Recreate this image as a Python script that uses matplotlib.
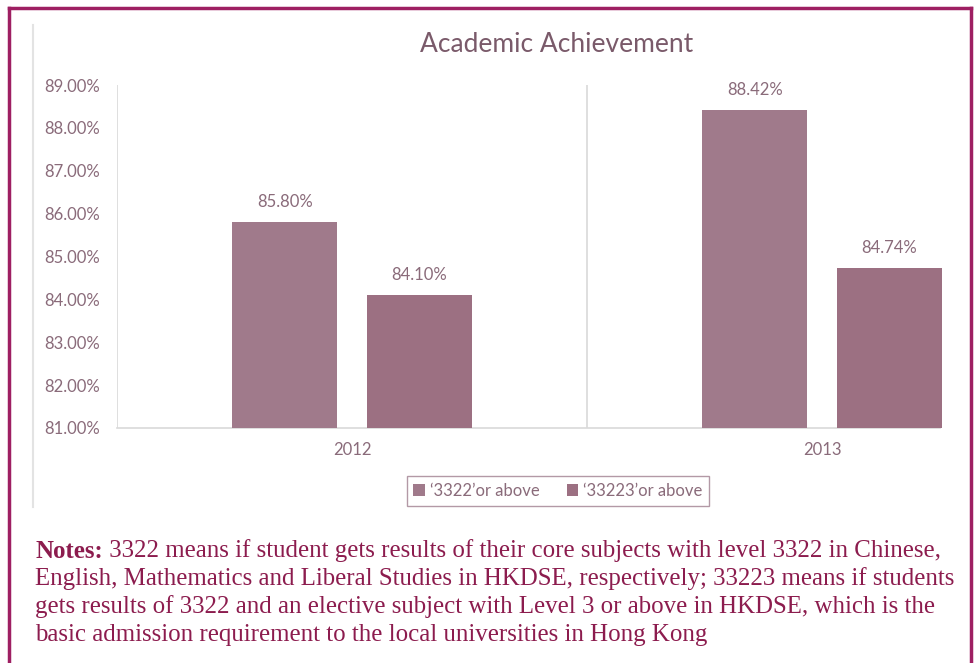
import matplotlib
matplotlib.use("Agg")
import matplotlib.pyplot as plt
from matplotlib.lines import Line2D
from matplotlib.patches import Patch
import numpy as np

# Chart data
years = ["2012", "2013"]
pass_3322 = [85.80, 88.42]
pass_33223 = [84.10, 84.74]
series_names = ["\u20183322\u2019or above", "\u201833223\u2019or above"]
y_ticks = [81, 82, 83, 84, 85, 86, 87, 88, 89]

W, H = 974, 663
fig = plt.figure(figsize=(W / 100, H / 100), dpi=100)
fig.patch.set_facecolor("white")

label_col = "#8a6b7a"
bar_cols = ["#a07a8b", "#9c7082"]
grid_col = "#d9d9d9"
note_col = "#8c1c4e"

# axes in pixel terms: left spine x=117, bottom y=428, top y=85, category width 470 px
ax = fig.add_axes([117 / W, (H - 428) / H, 940 / W, 343 / H])
ax.set_xlim(-0.5, 1.5)
ax.set_ylim(81, 89)

x = np.arange(len(years))
bw = 0.223
off = 0.143
for i, (vals, col) in enumerate(zip([pass_3322, pass_33223], bar_cols)):
    pos = x + (-off if i == 0 else off)
    ax.bar(pos, np.array(vals) - 81, bottom=81, width=bw, color=col, zorder=3)
    for p, v in zip(pos, vals):
        ax.text(p, v + 0.28, f"{v:.2f}%", ha="center", va="bottom",
                fontsize=12, color=label_col, family="Lato")

# category separators, Excel style
for xv in [-0.5, 0.5]:
    ax.axvline(xv, color=grid_col, lw=1.2, zorder=1)

for s in ["top", "right", "left"]:
    ax.spines[s].set_visible(False)
ax.spines["bottom"].set_color(grid_col)
ax.spines["bottom"].set_linewidth(1.2)
ax.spines["bottom"].set_bounds(-0.5, 1.25)

ax.set_yticks(y_ticks)
ax.set_yticklabels([f"{t:.2f}%" for t in y_ticks])
ax.set_xticks(x)
ax.set_xticklabels(years)
ax.tick_params(length=0, colors=label_col, labelsize=12)
ax.tick_params(axis="y", pad=12)
ax.tick_params(axis="x", pad=10)
for t in ax.get_xticklabels() + ax.get_yticklabels():
    t.set_family("Lato")

fig.text(557 / W, 1 - 45 / H, "Academic Achievement", ha="center", va="center",
         fontsize=19, color="#7a5a6a", family="Lato")

# legend
handles = [Patch(facecolor=c, edgecolor="none") for c in bar_cols]
leg = fig.legend(handles, series_names, loc="center", bbox_to_anchor=(558 / W, 1 - 491 / H),
                 ncol=2, frameon=True, handlelength=0.7, handleheight=0.7,
                 handletextpad=0.3, columnspacing=1.6, borderpad=0.4,
                 prop={"family": "Lato", "size": 12})
leg.get_frame().set_edgecolor("#a08090")
leg.get_frame().set_linewidth(1.0)
leg.get_frame().set_boxstyle("square", pad=0)
for t in leg.get_texts():
    t.set_color(label_col)

# light chart-area border on the left
fig.add_artist(Line2D([33 / W, 33 / W], [1 - 25 / H, 1 - 507 / H], color="#e3e3e3", lw=1.5))

# outer magenta frame (bottom edge not shown)
frame = dict(color="#9e1f62", lw=2.5)
fig.add_artist(Line2D([9 / W, 9 / W], [0, 1 - 8 / H], **frame))
fig.add_artist(Line2D([971 / W, 971 / W], [0, 1 - 8 / H], **frame))
fig.add_artist(Line2D([9 / W, 971 / W], [1 - 8 / H, 1 - 8 / H], **frame))

# notes underneath
note_lines = [
    "3322 means if student gets results of their core subjects with level 3322 in Chinese,",
    "English, Mathematics and Liberal Studies in HKDSE, respectively; 33223 means if students",
    "gets results of 3322 and an elective subject with Level 3 or above in HKDSE, which is the",
    "basic admission requirement to the local universities in Hong Kong",
]
serif = dict(family="Liberation Serif", fontsize=17.9, color=note_col)
line_y = [551, 579, 607, 635]
head = fig.text(35 / W, 1 - line_y[0] / H, "Notes:", ha="left", va="center",
                fontweight="bold", **serif)
ax.annotate(" " + note_lines[0], xy=(1, 0.5), xycoords=head, ha="left", va="center",
            annotation_clip=False, **serif)
for yy, line in zip(line_y[1:], note_lines[1:]):
    fig.text(35 / W, 1 - yy / H, line, ha="left", va="center", **serif)

fig.savefig("out.png", dpi=100, facecolor="white")
